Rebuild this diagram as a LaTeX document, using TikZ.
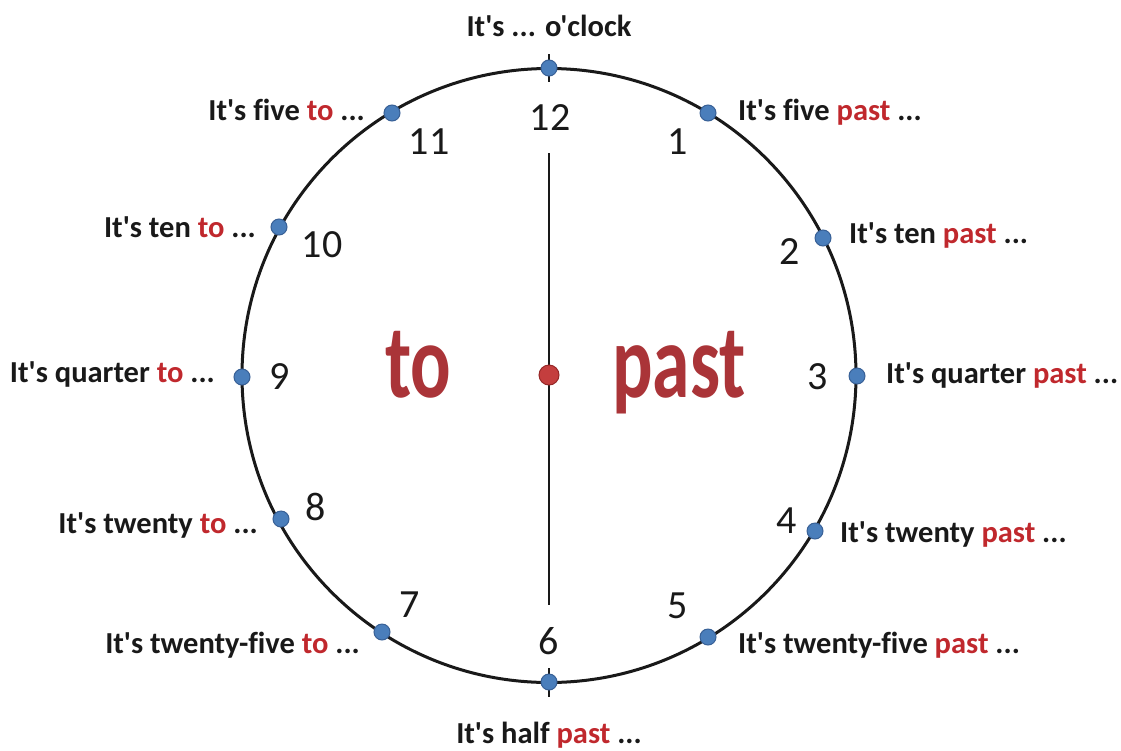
\documentclass[tikz,border=0pt]{standalone}
\usepackage{fontspec}
\setmainfont{Carlito}
\newfontfamily\calfont{Carlito}[Ligatures=NoCommon]
\definecolor{lblred}{RGB}{192,40,45}
\definecolor{bigred}{RGB}{170,52,56}
\definecolor{dotblue}{RGB}{74,126,187}
\definecolor{dotedge}{RGB}{56,96,150}
\definecolor{ctrred}{RGB}{196,62,62}
\definecolor{ctredge}{RGB}{150,40,40}
\definecolor{ink}{RGB}{25,25,25}
\newcommand\redw[1]{\textcolor{lblred}{#1}}
\begin{document}
\begin{tikzpicture}[x=1pt,y=-1pt,
  lbl/.style={font=\calfont\fontsize{30.5}{34}\selectfont\bfseries, text=ink, inner sep=0pt},
  num/.style={font=\calfont\fontsize{40}{44}\selectfont, text=ink, inner sep=0pt},
  bigword/.style={font=\calfont\fontsize{105}{110}\selectfont\bfseries, text=bigred, inner sep=0pt, xscale=0.72},
  hdot/.style={circle, fill=dotblue, draw=dotedge, line width=1pt, minimum size=16pt, inner sep=0pt},
  cdot/.style={circle, fill=ctrred, draw=ctredge, line width=1pt, minimum size=20pt, inner sep=0pt},
  rim/.style={circle, draw=ink, line width=3pt, minimum size=614pt, inner sep=0pt},
  axis/.style={draw=ink, line width=2.5pt}]
\useasboundingbox (0,0) rectangle (1121,750);
% clock face
\node[rim] (face) at (549,375.5) {};
\coordinate (vtop) at (549,153);
\coordinate (vbot) at (549,605);
\draw[axis] (vtop) -- (vbot);
\coordinate (t12a) at (549,54);
\coordinate (t12b) at (549,82);
\coordinate (t6a) at (549,668);
\coordinate (t6b) at (549,697);
\draw[axis] (t12a) -- (t12b);
\draw[axis] (t6a) -- (t6b);
% hour dots
\node[hdot] (d12) at (549,68) {};
\node[hdot] (d1) at (708,113) {};
\node[hdot] (d2) at (823,238) {};
\node[hdot] (d3) at (857,376) {};
\node[hdot] (d4) at (815,531) {};
\node[hdot] (d5) at (708,637) {};
\node[hdot] (d6) at (549,682) {};
\node[hdot] (d7) at (382,632) {};
\node[hdot] (d8) at (281,519) {};
\node[hdot] (d9) at (242,377) {};
\node[hdot] (d10) at (279,227) {};
\node[hdot] (d11) at (392,113) {};
\node[cdot] (ctr) at (549,375) {};
% numbers
\node[num] (n12) at (550,118) {12};
\node[num] (n1) at (678,142) {1};
\node[num] (n2) at (790,252) {2};
\node[num] (n3) at (818,377) {3};
\node[num] (n4) at (787,521) {4};
\node[num] (n5) at (678,606) {5};
\node[num] (n6) at (549,641) {6};
\node[num] (n7) at (410,605) {7};
\node[num] (n8) at (316,507) {8};
\node[num] (n9) at (280,377) {9};
\node[num] (n10) at (322,245) {10};
\node[num] (n11) at (429,142) {11};
% big words
\node[bigword, anchor=base west] (wto) at (385,397) {to};
\node[bigword, anchor=base west] (wpast) at (612,397) {past};
% labels
\node[lbl, anchor=base] (l12) at (549,36) {It's ... o'clock};
\node[lbl, anchor=base west] (l1) at (738,120) {It's five \redw{past} ...};
\node[lbl, anchor=base west] (l2) at (849,243) {It's ten \redw{past} ...};
\node[lbl, anchor=base west] (l3) at (886,383) {It's quarter \redw{past} ...};
\node[lbl, anchor=base west] (l4) at (840,542) {It's twenty \redw{past} ...};
\node[lbl, anchor=base west] (l5) at (738,653) {It's twenty-five \redw{past} ...};
\node[lbl, anchor=base] (l6) at (549,743) {It's half \redw{past} ...};
\node[lbl, anchor=base east] (l7) at (360,653) {It's twenty-five \redw{to} ...};
\node[lbl, anchor=base east] (l8) at (258,533) {It's twenty \redw{to} ...};
\node[lbl, anchor=base east] (l9) at (215,382) {It's quarter \redw{to} ...};
\node[lbl, anchor=base east] (l10) at (256,237) {It's ten \redw{to} ...};
\node[lbl, anchor=base east] (l11) at (365,120) {It's five \redw{to} ...};
\end{tikzpicture}
\end{document}
